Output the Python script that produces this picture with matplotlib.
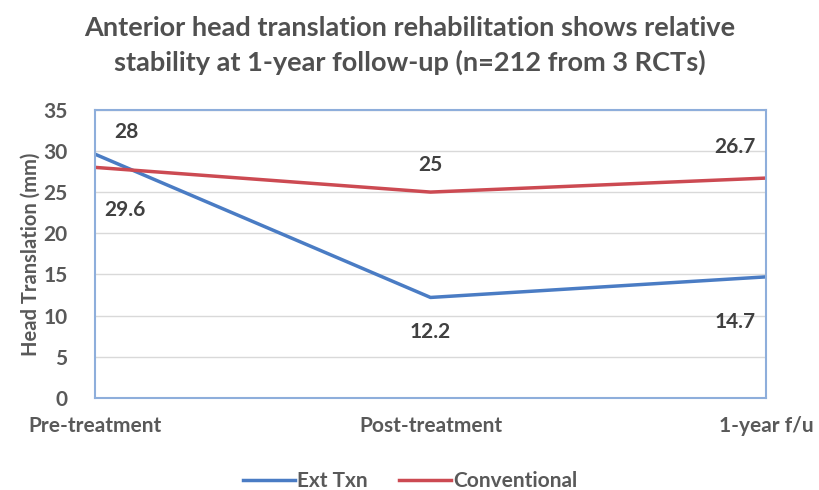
import matplotlib
matplotlib.use("Agg")
from matplotlib import pyplot as plt

## data
stages = ["Pre-treatment", "Post-treatment", "1-year f/u"]
ext_txn = [29.6, 12.2, 14.7]
conventional = [28, 25, 26.7]

## label offsets in pixels (from each point)
ext_offsets = [(30, -56), (0, -35), (-31, -45)]
conv_offsets = [(31, 35), (0, 27), (-31, 31)]

plt.rcParams["font.family"] = ["Lato", "DejaVu Sans"]
text_grey = "#595959"
wt = "bold"

fig = plt.figure(figsize=(8.2, 4.9), dpi=100)
ax = fig.add_axes([0.116, 0.188, 0.818, 0.588])

x = list(range(len(stages)))
ax.plot(x, ext_txn, color="#4a7cc4", lw=2.5, label="Ext Txn")
ax.plot(x, conventional, color="#cc4a52", lw=2.5, label="Conventional")

for xi, v, off in zip(x, ext_txn, ext_offsets):
    ax.annotate(f"{v:g}", (xi, v), xytext=off, textcoords="offset pixels",
                ha="center", va="center", fontsize=15, color="#404040", fontweight="bold")
for xi, v, off in zip(x, conventional, conv_offsets):
    ax.annotate(f"{v:g}", (xi, v), xytext=off, textcoords="offset pixels",
                ha="center", va="center", fontsize=15, color="#404040", fontweight="bold")

ax.set_xlim(0, 2)
ax.set_ylim(0, 35)
ax.set_yticks(range(0, 36, 5))
ax.set_xticks(x)
ax.set_xticklabels(stages)
ax.tick_params(length=0, labelsize=15, colors=text_grey)
ax.tick_params(axis="x", pad=13)
ax.tick_params(axis="y", pad=20)
for lab in ax.get_xticklabels() + ax.get_yticklabels():
    lab.set_fontweight(wt)
ax.grid(axis="y", color="#d9d9d9", lw=1)
ax.set_axisbelow(True)
for s in ax.spines.values():
    s.set_color("#8eaedb")
    s.set_linewidth(1.5)

ax.set_ylabel("Head Translation (mm)", fontsize=14.5, color=text_grey, labelpad=2,
              fontweight=wt)
fig.suptitle("Anterior head translation rehabilitation shows relative\n"
             "stability at 1-year follow-up (n=212 from 3 RCTs)",
             fontsize=19.5, fontweight="bold", color="#505050", y=0.968,
             linespacing=1.45)

ax.legend(loc="upper center", bbox_to_anchor=(0.47, -0.19), ncol=2, frameon=False,
          prop={"size": 15, "weight": wt}, handlelength=2.5, handletextpad=0.1,
          columnspacing=1.5, labelcolor=text_grey)

plt.savefig("out.png", dpi=100)
